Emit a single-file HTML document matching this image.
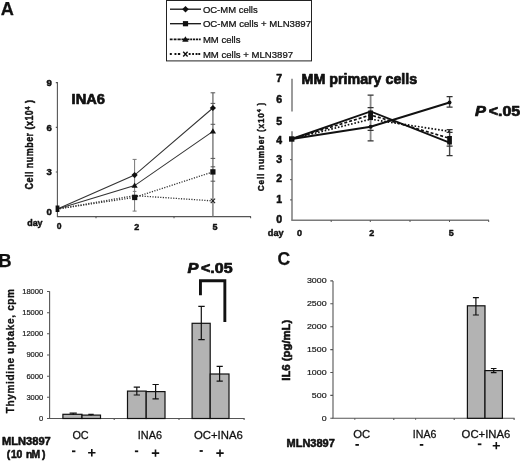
<!DOCTYPE html>
<html><head><meta charset="utf-8">
<style>
html,body{margin:0;padding:0;background:#fff;width:520px;height:461px;overflow:hidden}
svg{display:block;filter:grayscale(1)}
text{font-family:"Liberation Sans",sans-serif;fill:#111;stroke-linejoin:round}
</style></head><body>
<svg width="520" height="461" viewBox="0 0 520 461">
<text x="0.75" y="14.8" font-size="18.2" font-weight="bold" stroke="#111" stroke-width="0.25" >A</text>
<text x="-1.7" y="266.5" font-size="18.5" font-weight="bold" stroke="#111" stroke-width="0.25" >B</text>
<text x="277.5" y="265.0" font-size="17.5" font-weight="bold" stroke="#111" stroke-width="0.25" >C</text>
<rect x="166.5" y="0.5" width="145" height="60.4" fill="none" stroke="#222" stroke-width="1"/>
<g stroke="#111" stroke-width="1.3" fill="#111">
  <line x1="170" y1="9.2" x2="201" y2="9.2"/>
  <path d="M185.5 5.9 L188.8 9.2 L185.5 12.5 L182.2 9.2 Z" stroke="none"/>
  <line x1="170" y1="23.7" x2="201" y2="23.7"/>
  <rect x="182.9" y="21.1" width="5.2" height="5.2" stroke="none"/>
  <path d="M169.8 39.3 H172.6 M173.7 39.3 H176.5 M177.5 39.3 H180.7 M181.5 39.3 H189.5 M190.2 39.3 H192 M192.8 39.3 H195 M195.8 39.3 H198 M198.8 39.3 H200.7" stroke-width="1.7"/>
  <path d="M185.4 36.2 L188.6 41.7 L182.2 41.7 Z" stroke="none"/>
  <path d="M169.8 54 H171.8 M174.5 54 H176.4 M177.9 54 H180.2 M188.7 54 H190.6 M192.2 54 H194 M195.6 54 H197.5 M198.3 54 H200.2" stroke-width="1.9"/>
  <path d="M183.2 51.8 L187.6 56.4 M187.6 51.8 L183.2 56.4" fill="none" stroke-width="1.4"/>
</g>
<text x="202.9" y="12.5" font-size="9.55" stroke="#111" stroke-width="0.24" textLength="54.8" lengthAdjust="spacingAndGlyphs" >OC-MM cells</text>
<text x="202.9" y="26.8" font-size="9.55" stroke="#111" stroke-width="0.24" textLength="108.1" lengthAdjust="spacingAndGlyphs" >OC-MM cells + MLN3897</text>
<text x="202.9" y="42.5" font-size="9.55" stroke="#111" stroke-width="0.24" textLength="37.6" lengthAdjust="spacingAndGlyphs" >MM cells</text>
<text x="202.9" y="57.7" font-size="9.55" stroke="#111" stroke-width="0.24" textLength="90.2" lengthAdjust="spacingAndGlyphs" >MM cells + MLN3897</text>
<g stroke="#555" stroke-width="1.1" fill="none">
  <line x1="57.4" y1="82" x2="57.4" y2="216.6"/>
  <line x1="56.9" y1="216.6" x2="251" y2="216.6"/>
  <path d="M55.8 82.6 H57.4 M55.8 127.4 H57.4 M55.8 172 H57.4"/>
  <path d="M96 216.6 V218.2 M174 216.6 V218.2 M250.6 216.6 V218.2"/>
</g>
<g stroke="#777" stroke-width="1" fill="none">
  <path d="M134.6 159.4 V211.1 M132.6 159.4 H136.6 M132.6 211.1 H136.6"/>
  <path d="M132.8 191.4 H136.4"/>
</g>
<g stroke="#888" stroke-width="1.6" fill="none">
  <path d="M212.9 92.8 V216.2"/>
</g>
<g stroke="#555" stroke-width="1" fill="none">
  <path d="M210.6 92.8 H215.2 M210.6 103.4 H215.2 M210.6 124.3 H215.2 M210.6 158.4 H215.2 M210.6 166.8 H215.2 M210.6 181.2 H215.2"/>
</g>
<g stroke="#333" stroke-width="1.05" fill="none">
  <polyline points="57.4,209 134.6,175.1 212.9,108"/>
  <polyline points="57.4,209 134.6,185.6 212.9,131.4"/>
</g>
<g stroke="#333" stroke-width="1.3" fill="none" stroke-dasharray="1.2 1.4">
  <polyline points="57.4,209 134.6,197.4 212.9,171.9"/>
  <polyline points="57.4,209 134.6,195.6 212.9,200.9"/>
</g>
<g fill="#111">
  <rect x="55.6" y="205.5" width="3.8" height="6.5"/>
  <path d="M134.6 172 L137.7 175.1 L134.6 178.2 L131.5 175.1 Z"/>
  <path d="M212.9 104.9 L216 108 L212.9 111.1 L209.8 108 Z"/>
  <path d="M134.6 182.6 L137.7 187.8 L131.5 187.8 Z"/>
  <path d="M212.9 128.3 L216 133.6 L209.8 133.6 Z"/>
  <rect x="132.1" y="194.7" width="5.2" height="5.4"/>
  <rect x="210.3" y="169.2" width="5.2" height="5.4"/>
  <path d="M210.7 198.7 L215.1 203.1 M215.1 198.7 L210.7 203.1" stroke="#222" stroke-width="1.1"/>
</g>
<text x="46.6" y="85.7" font-size="9.6" font-weight="bold" stroke="#111" stroke-width="0.48" >9</text>
<text x="46.6" y="131.3" font-size="9.6" font-weight="bold" stroke="#111" stroke-width="0.48" >6</text>
<text x="46.6" y="174.7" font-size="9.6" font-weight="bold" stroke="#111" stroke-width="0.48" >3</text>
<text x="46.6" y="215.0" font-size="9.6" font-weight="bold" stroke="#111" stroke-width="0.48" >0</text>
<text x="27.2" y="226.4" font-size="8.9" font-weight="bold" stroke="#111" stroke-width="0.45" textLength="15.4" lengthAdjust="spacingAndGlyphs" >day</text>
<text x="56.8" y="229.3" font-size="8.6" font-weight="bold" stroke="#111" stroke-width="0.43" >0</text>
<text x="134.2" y="229.6" font-size="9.0" font-weight="bold" stroke="#111" stroke-width="0.45" >2</text>
<text x="212.4" y="229.7" font-size="9.0" font-weight="bold" stroke="#111" stroke-width="0.45" >5</text>
<text x="71.6" y="103.6" font-size="14.4" font-weight="bold" stroke="#111" stroke-width="0.72" textLength="33.4" lengthAdjust="spacingAndGlyphs" >INA6</text>
<text x="0" y="0" font-size="10.2" font-weight="bold" stroke="#111" stroke-width="0.45" transform="translate(32.9,189.4) rotate(-90) scale(0.88,1)" textLength="101.5" lengthAdjust="spacing">Cell number (x10<tspan font-size="6.5" dy="-3.4">4</tspan><tspan dy="3.4"> )</tspan></text>
<g stroke="#7a7a7a" stroke-width="1.5" fill="none">
  <line x1="292" y1="78.8" x2="292" y2="111.4"/>
  <line x1="292" y1="131.2" x2="292" y2="220.3"/>
  <line x1="291.3" y1="220.2" x2="489" y2="220.2"/>
</g>
<g stroke="#555" stroke-width="1" fill="none">
  <path d="M290 159.7 H292 M290 179.7 H292 M290 199.9 H292"/>
  <path d="M331.2 220.2 V222 M370.3 220.2 V222 M410 220.2 V222 M449.5 220.2 V222 M488.7 220.2 V222"/>
</g>
<g stroke="#888" stroke-width="1.8" fill="none">
  <path d="M370.6 95.2 V140.9"/>
</g>
<g stroke="#444" stroke-width="1.4" fill="none">
  <path d="M449.6 96.7 V107.1 M449.6 129.6 V155.6"/>
</g>
<g stroke="#333" stroke-width="1.3" fill="none">
  <path d="M367.6 95.2 H373.6 M367.6 107.7 H373.6 M367.6 130.4 H373.6 M367.6 140.9 H373.6"/>
  <path d="M446.6 96.7 H452.6 M446.6 107.1 H452.6 M446.6 129.6 H452.6 M446.6 132.4 H452.6 M446.6 146.2 H452.6 M446.6 155.6 H452.6"/>
</g>
<g stroke="#111" stroke-width="1.9" fill="none">
  <polyline points="291.7,139 370.6,126.7 449.5,102.5"/>
  <polyline points="291.7,139 370.6,111.4 449.5,142.6"/>
</g>
<g stroke="#111" stroke-width="1.7" fill="none">
  <polyline points="291.7,139 370.6,115 449.5,138.3" stroke-dasharray="3 2"/>
  <polyline points="291.7,139 370.6,119.2 449.5,131.4" stroke-dasharray="1.6 1.8"/>
</g>
<g fill="#111">
  <rect x="289" y="136.3" width="5.4" height="5.4"/>
  <rect x="368.2" y="110.5" width="4.8" height="9.5"/>
  <circle cx="370.6" cy="126.7" r="2"/>
  <circle cx="449.5" cy="102.5" r="2"/>
  <rect x="447.2" y="136" width="4.7" height="8.5"/>
</g>
<text x="276.2" y="81.8" font-size="10.5" font-weight="bold" stroke="#111" stroke-width="0.53" >7</text>
<text x="276.2" y="103.3" font-size="10.5" font-weight="bold" stroke="#111" stroke-width="0.53" >6</text>
<text x="276.2" y="125.0" font-size="10.5" font-weight="bold" stroke="#111" stroke-width="0.53" >5</text>
<text x="276.2" y="143.7" font-size="10.5" font-weight="bold" stroke="#111" stroke-width="0.53" >4</text>
<text x="276.2" y="163.0" font-size="10.5" font-weight="bold" stroke="#111" stroke-width="0.53" >3</text>
<text x="276.2" y="182.2" font-size="10.5" font-weight="bold" stroke="#111" stroke-width="0.53" >2</text>
<text x="276.2" y="203.3" font-size="10.5" font-weight="bold" stroke="#111" stroke-width="0.53" >1</text>
<text x="276.2" y="223.3" font-size="10.5" font-weight="bold" stroke="#111" stroke-width="0.53" >0</text>
<text x="267.8" y="236.0" font-size="8.7" font-weight="bold" stroke="#111" stroke-width="0.43" textLength="15.8" lengthAdjust="spacingAndGlyphs" >day</text>
<text x="296.9" y="236.0" font-size="9.0" font-weight="bold" stroke="#111" stroke-width="0.45" >0</text>
<text x="369.3" y="235.8" font-size="9.0" font-weight="bold" stroke="#111" stroke-width="0.45" >2</text>
<text x="448.7" y="236.2" font-size="9.0" font-weight="bold" stroke="#111" stroke-width="0.45" >5</text>
<text x="301.6" y="83.6" font-size="14.3" font-weight="bold" stroke="#111" stroke-width="0.72" textLength="115.6" lengthAdjust="spacingAndGlyphs" >MM primary cells</text>
<text x="475.0" y="115.9" font-size="14.5" font-weight="bold" stroke="#111" stroke-width="0.73" font-style="italic" textLength="10.9" lengthAdjust="spacingAndGlyphs" >P</text>
<text x="488.8" y="115.9" font-size="14.5" font-weight="bold" stroke="#111" stroke-width="0.73" textLength="31.4" lengthAdjust="spacingAndGlyphs" >&lt;.05</text>
<text x="0" y="0" font-size="9.4" font-weight="bold" stroke="#111" stroke-width="0.42" transform="translate(264,191.2) rotate(-90) scale(0.88,1)" textLength="100.5" lengthAdjust="spacing">Cell number (x10<tspan font-size="6" dy="-3.2">4</tspan><tspan dy="3.2"> )</tspan></text>
<g stroke="#555" stroke-width="1.1" fill="none">
  <line x1="49.6" y1="291.3" x2="49.6" y2="418.5"/>
  <line x1="49" y1="418.5" x2="244.6" y2="418.5"/>
  <path d="M47 291.5 H49.6 M47 312.7 H49.6 M47 333.8 H49.6 M47 355 H49.6 M47 376.2 H49.6 M47 397.3 H49.6 M47 418.5 H49.6"/>
  <path d="M114.2 418.5 V420 M179 418.5 V420 M244.1 418.5 V420"/>
</g>
<g fill="#b3b3b3" stroke="#111" stroke-width="1.2">
  <rect x="62.9" y="414.3" width="19.1" height="4.2"/>
  <rect x="82" y="415.1" width="18.5" height="3.4"/>
  <rect x="127.5" y="391.1" width="18.7" height="27.4"/>
  <rect x="146.2" y="391.6" width="18.8" height="26.9"/>
  <rect x="192.1" y="323.3" width="18.1" height="95.2"/>
  <rect x="210.2" y="374" width="18.8" height="44.5"/>
</g>
<g stroke="#111" stroke-width="1.2" fill="none">
  <path d="M73.2 413.2 V415 M69.6 413.2 H76.8"/>
  <path d="M91 414.3 V415.5 M88.3 414.3 H93.7"/>
  <path d="M136.8 387.2 V395 M133.7 387.2 H140 M133.7 395 H140"/>
  <path d="M155.6 384.5 V398.9 M152.5 384.5 H158.8 M152.5 398.9 H158.8"/>
  <path d="M201.3 306.4 V339.6 M198.3 306.4 H204.7 M198.3 339.6 H204.7"/>
  <path d="M219.6 366.3 V381.1 M216.6 366.3 H222.8 M216.6 381.1 H222.8"/>
</g>
<path d="M200.45 295.3 V280.7 H224.85 V322.1" stroke="#111" stroke-width="2.9" fill="none"/>
<text x="43.3" y="293.7" font-size="7.6" stroke="#222" stroke-width="0.19" text-anchor="end" fill="#222" >18000</text>
<text x="43.3" y="314.9" font-size="7.6" stroke="#222" stroke-width="0.19" text-anchor="end" fill="#222" >15000</text>
<text x="43.3" y="336.1" font-size="7.6" stroke="#222" stroke-width="0.19" text-anchor="end" fill="#222" >12000</text>
<text x="43.3" y="357.3" font-size="7.6" stroke="#222" stroke-width="0.19" text-anchor="end" fill="#222" >9000</text>
<text x="43.3" y="378.5" font-size="7.6" stroke="#222" stroke-width="0.19" text-anchor="end" fill="#222" >6000</text>
<text x="43.3" y="399.7" font-size="7.6" stroke="#222" stroke-width="0.19" text-anchor="end" fill="#222" >3000</text>
<text x="43.3" y="420.9" font-size="7.6" stroke="#222" stroke-width="0.19" text-anchor="end" fill="#222" >0</text>
<text x="0" y="0" font-size="11.2" font-weight="bold" stroke="#111" stroke-width="0.35" transform="translate(13.5,413.3) rotate(-90) scale(0.9,1)" textLength="138.2" lengthAdjust="spacing">Thymidine uptake, cpm</text>
<text x="72.4" y="439.0" font-size="10.9" stroke="#111" stroke-width="0.27" textLength="16.3" lengthAdjust="spacingAndGlyphs" >OC</text>
<text x="137.8" y="439.0" font-size="10.9" stroke="#111" stroke-width="0.27" textLength="24.2" lengthAdjust="spacingAndGlyphs" >INA6</text>
<text x="193.9" y="438.8" font-size="10.9" stroke="#111" stroke-width="0.27" textLength="48.9" lengthAdjust="spacingAndGlyphs" >OC+INA6</text>
<text x="2.0" y="444.8" font-size="10.4" font-weight="bold" stroke="#111" stroke-width="0.52" textLength="48.8" lengthAdjust="spacingAndGlyphs" >MLN3897</text>
<text x="6.7 10.9 16.6 22.6 26.0 31.5 41.9" y="457.6" font-size="10.4" font-weight="bold" stroke="#111" stroke-width="0.52">(10 nM)</text>
<text x="187.6" y="273.3" font-size="14.5" font-weight="bold" stroke="#111" stroke-width="0.73" font-style="italic" textLength="10.9" lengthAdjust="spacingAndGlyphs" >P</text>
<text x="201.0" y="273.3" font-size="14.5" font-weight="bold" stroke="#111" stroke-width="0.73" textLength="31.6" lengthAdjust="spacingAndGlyphs" >&lt;.05</text>
<rect x="72.0" y="450.4" width="3.4000000000000057" height="1.8000000000000114" fill="#111"/>
<path d="M88.1 452.7 H95.5 M91.8 449.0 V456.4" stroke="#111" stroke-width="1.6" fill="none"/>
<rect x="134.9" y="450.4" width="3.299999999999983" height="1.8000000000000114" fill="#111"/>
<path d="M151.8 453.1 H159.2 M155.5 449.40000000000003 V456.8" stroke="#111" stroke-width="1.6" fill="none"/>
<rect x="199.6" y="450.1" width="3.200000000000017" height="1.7999999999999545" fill="#111"/>
<path d="M216.3 453.1 H223.7 M220.0 449.40000000000003 V456.8" stroke="#111" stroke-width="1.6" fill="none"/>
<g stroke="#555" stroke-width="1.1" fill="none">
  <line x1="333" y1="280.9" x2="333" y2="418.3"/>
  <line x1="332.4" y1="418.3" x2="514.6" y2="418.3"/>
  <path d="M330.3 280.9 H333 M330.3 303.8 H333 M330.3 326.7 H333 M330.3 349.6 H333 M330.3 372.5 H333 M330.3 395.4 H333 M330.3 418.3 H333"/>
  <path d="M393.8 418.3 V420 M454.2 418.3 V420 M514.1 418.3 V420 M354.8 418.3 V419.8 M415.6 418.3 V419.8"/>
</g>
<g fill="#b3b3b3" stroke="#111" stroke-width="1.2">
  <rect x="467.4" y="305.8" width="17.6" height="112.5"/>
  <rect x="485" y="370.6" width="17.4" height="47.7"/>
</g>
<g stroke="#111" stroke-width="1.2" fill="none">
  <path d="M475.9 297.6 V315 M472.9 297.6 H478.9 M472.9 315 H478.9"/>
  <path d="M493.7 368.5 V372.7 M490.9 368.5 H496.5 M490.9 372.7 H496.5"/>
</g>
<text x="306.90000000000003" y="283.3" font-size="7.6" stroke="#222" stroke-width="0.19" textLength="19.7" lengthAdjust="spacingAndGlyphs" fill="#222" >3000</text>
<text x="306.90000000000003" y="306.3" font-size="7.6" stroke="#222" stroke-width="0.19" textLength="19.7" lengthAdjust="spacingAndGlyphs" fill="#222" >2500</text>
<text x="306.90000000000003" y="329.2" font-size="7.6" stroke="#222" stroke-width="0.19" textLength="19.7" lengthAdjust="spacingAndGlyphs" fill="#222" >2000</text>
<text x="306.90000000000003" y="352.1" font-size="7.6" stroke="#222" stroke-width="0.19" textLength="19.7" lengthAdjust="spacingAndGlyphs" fill="#222" >1500</text>
<text x="306.90000000000003" y="375.0" font-size="7.6" stroke="#222" stroke-width="0.19" textLength="19.7" lengthAdjust="spacingAndGlyphs" fill="#222" >1000</text>
<text x="311.8" y="397.9" font-size="7.6" stroke="#222" stroke-width="0.19" textLength="14.8" lengthAdjust="spacingAndGlyphs" fill="#222" >500</text>
<text x="321.70000000000005" y="420.8" font-size="7.6" stroke="#222" stroke-width="0.19" textLength="4.9" lengthAdjust="spacingAndGlyphs" fill="#222" >0</text>
<text x="0" y="0" font-size="11.3" font-weight="bold" stroke="#111" stroke-width="0.57" textLength="61.0" lengthAdjust="spacingAndGlyphs" transform="translate(290.2,380.7) rotate(-90)">IL6 (pg/mL)</text>
<text x="353.2" y="438.0" font-size="10.9" stroke="#111" stroke-width="0.27" textLength="17.0" lengthAdjust="spacingAndGlyphs" >OC</text>
<text x="412.8" y="438.0" font-size="10.9" stroke="#111" stroke-width="0.27" textLength="23.6" lengthAdjust="spacingAndGlyphs" >INA6</text>
<text x="461.6" y="437.9" font-size="10.9" stroke="#111" stroke-width="0.27" textLength="48.7" lengthAdjust="spacingAndGlyphs" >OC+INA6</text>
<text x="286.5" y="446.5" font-size="10.4" font-weight="bold" stroke="#111" stroke-width="0.52" textLength="48.3" lengthAdjust="spacingAndGlyphs" >MLN3897</text>
<rect x="355.4" y="444.0" width="3.5" height="1.8000000000000114" fill="#111"/>
<rect x="419.8" y="444.0" width="3.5" height="1.8000000000000114" fill="#111"/>
<rect x="477.8" y="443.4" width="3.599999999999966" height="1.8000000000000114" fill="#111"/>
<path d="M492.7 445.7 H499.90000000000003 M496.3 442.09999999999997 V449.3" stroke="#111" stroke-width="1.6" fill="none"/>
</svg>
</body></html>
